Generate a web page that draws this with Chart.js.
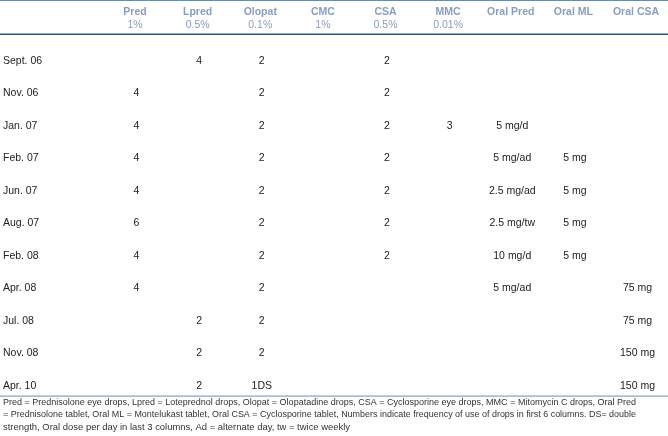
<!DOCTYPE html>
<html>
<head>
<meta charset="utf-8">
<script src="https://cdn.jsdelivr.net/npm/chart.js@4/dist/chart.umd.min.js"></script>
<style>
  html, body { margin: 0; padding: 0; background: #ffffff; }
  #wrap { width: 668px; height: 436px; }
</style>
</head>
<body>
<div id="wrap"><canvas id="c" width="668" height="436"></canvas></div>
<script>
// ---- Table data ----
const rowLabels = ['Sept. 06', 'Nov. 06', 'Jan. 07', 'Feb. 07', 'Jun. 07', 'Aug. 07', 'Feb. 08', 'Apr. 08', 'Jul. 08', 'Nov. 08', 'Apr. 10'];
const colNames = ['Pred', 'Lpred', 'Olopat', 'CMC', 'CSA', 'MMC', 'Oral Pred', 'Oral ML', 'Oral CSA'];
const colStrengths = ['1%', '0.5%', '0.1%', '1%', '0.5%', '0.01%', '', '', ''];

const pred     = [null, '4', '4', '4', '4', '6', '4', '4', null, null, null];
const lpred    = ['4', null, null, null, null, null, null, null, '2', '2', '2'];
const olopat   = ['2', '2', '2', '2', '2', '2', '2', '2', '2', '2', '1DS'];
const cmc      = [null, null, null, null, null, null, null, null, null, null, null];
const csa      = ['2', '2', '2', '2', '2', '2', '2', null, null, null, null];
const mmc      = [null, null, '3', null, null, null, null, null, null, null, null];
const oralPred = [null, null, '5 mg/d', '5 mg/ad', '2.5 mg/ad', '2.5 mg/tw', '10 mg/d', '5 mg/ad', null, null, null];
const oralML   = [null, null, null, '5 mg', '5 mg', '5 mg', '5 mg', null, null, null, null];
const oralCSA  = [null, null, null, null, null, null, null, '75 mg', '75 mg', '150 mg', '150 mg'];

const footnote = [
  'Pred = Prednisolone eye drops, Lpred = Loteprednol drops, Olopat = Olopatadine drops, CSA = Cyclosporine eye drops, MMC = Mitomycin C drops, Oral Pred',
  '= Prednisolone tablet, Oral ML = Montelukast tablet, Oral CSA = Cyclosporine tablet, Numbers indicate frequency of use of drops in first 6 columns. DS= double',
  'strength, Oral dose per day in last 3 columns, Ad = alternate day, tw = twice weekly'
];

const columns = [pred, lpred, olopat, cmc, csa, mmc, oralPred, oralML, oralCSA];

// ---- Build datasets (one per column) ----
const datasets = columns.map((col, ci) => ({
  label: colNames[ci],
  data: col.map((v, ri) => v === null ? null : { x: colNames[ci], y: rowLabels[ri], v: v }).filter(Boolean),
  pointRadius: 0,
  pointHoverRadius: 0,
  showLine: false
}));

const FONT = "'Liberation Sans', Arial, Helvetica, sans-serif";
const HEADER_COLOR = '#8a9cc1';
const TEXT_COLOR = '#222222';

const cellTextPlugin = {
  id: 'cellText',
  afterDatasetsDraw(chart) {
    const ctx = chart.ctx;
    ctx.save();
    ctx.font = '10.5px ' + FONT;
    ctx.fillStyle = TEXT_COLOR;
    ctx.textAlign = 'center';
    ctx.textBaseline = 'middle';
    chart.data.datasets.forEach((ds, di) => {
      const meta = chart.getDatasetMeta(di);
      meta.data.forEach((el, j) => {
        const raw = ds.data[j];
        ctx.fillText(raw.v, el.x + 1.5, el.y);
      });
    });
    ctx.restore();
  },
  afterDraw(chart) {
    const ctx = chart.ctx;
    const area = chart.chartArea;
    const W = chart.width;
    ctx.save();
    // top rule
    ctx.fillStyle = '#6f8aa3';
    ctx.fillRect(0, 0, W, 1);
    // rule under header
    ctx.fillStyle = '#2f5579';
    ctx.fillRect(0, area.top - 27.5, W, 1.5);
    // rule under body
    ctx.fillStyle = '#88a2b8';
    ctx.fillRect(0, area.bottom + 9.5, W, 1.2);
    ctx.restore();
  }
};

new Chart(document.getElementById('c'), {
  type: 'scatter',
  data: { datasets: datasets },
  options: {
    responsive: false,
    animation: false,
    events: [],
    layout: { padding: { left: 3, right: 32, top: 0, bottom: 0 } },
    plugins: {
      legend: { display: false },
      tooltip: { enabled: false },
      subtitle: {
        display: true,
        position: 'bottom',
        align: 'start',
        text: footnote,
        color: '#333333',
        font: { family: FONT, size: 9.45, lineHeight: '12.7px', weight: 'normal' },
        padding: { top: 9.6, bottom: 2.3 }
      }
    },
    scales: {
      x: {
        type: 'category',
        position: 'top',
        labels: colNames,
        offset: false,
        weight: 2,
        grid: { display: false, drawTicks: false },
        border: { display: false },
        ticks: {
          autoSkip: false, maxRotation: 0, minRotation: 0, padding: 2,
          color: HEADER_COLOR,
          font: { family: FONT, size: 10.5, weight: 'bold' }
        },
        afterFit: s => { s.height = 20; }
      },
      x2: {
        type: 'category',
        position: 'top',
        labels: colNames,
        offset: false,
        weight: 1,
        grid: { display: false, drawTicks: false },
        border: { display: false },
        ticks: {
          autoSkip: false, maxRotation: 0, minRotation: 0, padding: 29.5,
          color: HEADER_COLOR,
          font: { family: FONT, size: 10.5, weight: 'normal' },
          callback: (v, i) => colStrengths[i]
        },
        afterFit: s => { s.height = 41; }
      },
      y: {
        type: 'category',
        position: 'left',
        labels: rowLabels,
        offset: false,
        grid: { display: false, drawTicks: false },
        border: { display: false },
        ticks: {
          autoSkip: false, crossAlign: 'far',
          color: TEXT_COLOR,
          font: { family: FONT, size: 10.5 }
        },
        afterFit: s => { s.width = 132; }
      }
    }
  },
  plugins: [cellTextPlugin]
});
</script>
</body>
</html>
